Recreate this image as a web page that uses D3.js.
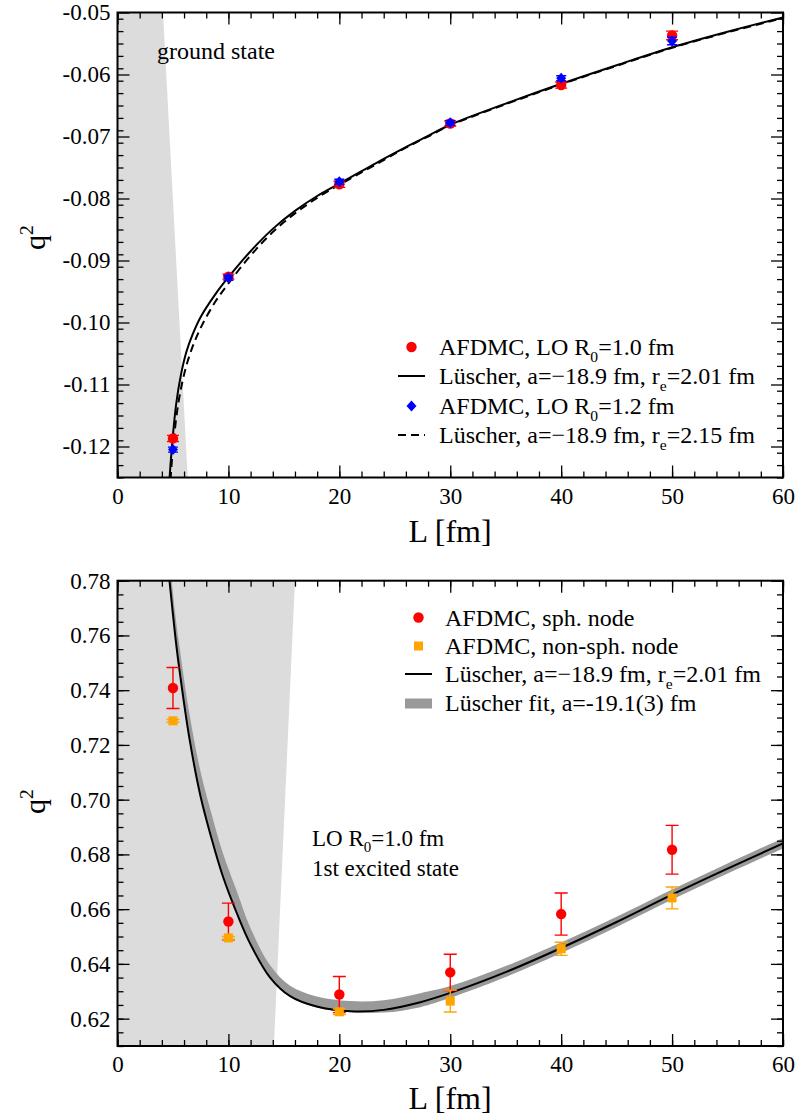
<!DOCTYPE html>
<html>
<head>
<meta charset="utf-8">
<script src="https://cdn.jsdelivr.net/npm/d3@7"></script>
<style>
  body { margin: 0; background: #fff; }
  text { font-family: "Liberation Serif", "Times New Roman", serif; fill: #000; }
</style>
</head>
<body>
<svg id="svg" width="798" height="1118"></svg>
<script>
/* globals d3 */

// ---- data: top panel (ground state) ----
var xTicks = [0, 10, 20, 30, 40, 50, 60];
var topYTicks = [-0.12, -0.11, -0.10, -0.09, -0.08, -0.07, -0.06, -0.05];
var dataL = [5, 10, 20, 30, 40, 50];

var gsR10 = [-0.1187, -0.0926, -0.0777, -0.0679, -0.0617, -0.0537];
var gsR10Err = [0.0005, 0.0004, 0.0005, 0.0004, 0.0005, 0.0007];
var gsR12 = [-0.1205, -0.0928, -0.0773, -0.0678, -0.0606, -0.0546];
var gsR12Err = [0.0004, 0.0004, 0.0004, 0.0004, 0.0004, 0.0006];

var lusSolidL = [4.6, 4.8, 5.0, 5.3, 5.7, 6.2, 6.8, 7.5, 8.8, 10, 12, 14, 16, 18, 20, 22, 24, 26, 28, 30, 35, 40, 45, 50, 55, 60];
var lusSolidQ = [-0.1275, -0.1224, -0.1181, -0.1130, -0.1086, -0.1048, -0.1018, -0.0991, -0.0955, -0.0927, -0.0885, -0.0849, -0.0820, -0.0796, -0.0776, -0.0756, -0.0736, -0.0717, -0.0699, -0.0681, -0.0647, -0.0615, -0.0585, -0.0556, -0.0531, -0.0508];
var lusDashL = [4.7, 4.9, 5.1, 5.4, 5.8, 6.3, 6.9, 7.6, 8.8, 10, 12, 14, 16, 18, 20, 22, 24, 26, 28, 30, 35, 40, 45, 50, 55, 60];
var lusDashQ = [-0.1275, -0.1224, -0.1185, -0.1140, -0.1100, -0.1064, -0.1033, -0.1005, -0.0967, -0.0937, -0.0892, -0.0854, -0.0824, -0.0799, -0.0778, -0.0758, -0.0738, -0.0718, -0.0700, -0.0682, -0.0648, -0.0616, -0.0586, -0.0557, -0.0532, -0.0509];

// shaded region edge (L at top and bottom of the frame)
var gsShadeEdge = [4.1, 6.33];

// ---- data: bottom panel (1st excited state) ----
var exYTicks = [0.62, 0.64, 0.66, 0.68, 0.70, 0.72, 0.74, 0.76, 0.78];
var exSph = [0.7408, 0.6555, 0.6288, 0.6369, 0.6582, 0.6817];
var exSphErr = [0.0075, 0.0067, 0.0066, 0.0066, 0.0077, 0.0089];
var exNonSph = [0.7288, 0.6495, 0.6225, 0.6264, 0.6455, 0.6641];
var exNonSphErr = [0.0005, 0.0005, 0.0010, 0.0040, 0.0024, 0.0040];

var exLusL = [4.6, 4.75, 5.2, 5.5, 6.5, 7.5, 8.5, 9.49, 10.8, 11.96, 13.76, 15.56, 17.96, 20.96, 24, 27.3, 30, 35, 40, 45, 50, 55, 60];
var exLusQ = [0.7835, 0.7775, 0.7600, 0.7500, 0.7220, 0.7010, 0.6855, 0.6721, 0.6581, 0.6474, 0.6350, 0.6282, 0.6244, 0.6227, 0.6232, 0.6260, 0.6294, 0.6370, 0.6458, 0.6553, 0.6653, 0.6748, 0.6840];
var exFitHi = [0.7915, 0.7855, 0.7680, 0.7585, 0.7310, 0.7100, 0.6945, 0.6806, 0.6661, 0.6534, 0.6395, 0.6320, 0.6281, 0.6264, 0.6267, 0.6293, 0.6319, 0.6392, 0.6478, 0.6572, 0.6672, 0.6767, 0.6859];
var exFitLo = [0.7835, 0.7775, 0.7600, 0.7500, 0.7220, 0.7010, 0.6855, 0.6721, 0.6581, 0.6474, 0.6348, 0.6280, 0.6241, 0.6224, 0.6222, 0.6242, 0.6276, 0.6352, 0.6440, 0.6535, 0.6635, 0.6730, 0.6822];

var exShadeEdge = [16.0, 14.1];

// ---- drawing ----
var svg = d3.select('#svg');
var FRAME_L = 117.5, FRAME_R = 783;

function makePanel(id, top, bottom, yDomain, yTicks, yMinorStep) {
  let p = {};
  p.x = d3.scaleLinear().domain([0, 60]).range([FRAME_L, FRAME_R]);
  p.y = d3.scaleLinear().domain(yDomain).range([bottom, top]);
  p.g = svg.append('g');

  p.g.append('clipPath').attr('id', id)
    .append('rect')
    .attr('x', FRAME_L).attr('y', top)
    .attr('width', FRAME_R - FRAME_L).attr('height', bottom - top);
  p.plot = p.g.append('g').attr('clip-path', 'url(#' + id + ')');

  p.drawAxes = function() {
    let xMinor = d3.range(0, 60.01, 2);
    let yMinor = d3.range(yDomain[0], yDomain[1] + 1e-9, yMinorStep);
    let ax = p.g.append('g');
    let fmt = function(d) { return d.toFixed(2); };

    // bottom
    ax.append('g').attr('transform', 'translate(0,' + bottom + ')')
      .call(d3.axisBottom(p.x).tickValues(xMinor).tickSize(-6).tickFormat(''));
    ax.append('g').attr('transform', 'translate(0,' + bottom + ')')
      .call(d3.axisBottom(p.x).tickValues(xTicks).tickSize(-12).tickPadding(10).tickFormat(d3.format('d')));
    // top
    ax.append('g').attr('transform', 'translate(0,' + top + ')')
      .call(d3.axisTop(p.x).tickValues(xMinor).tickSize(-6).tickFormat(''));
    ax.append('g').attr('transform', 'translate(0,' + top + ')')
      .call(d3.axisTop(p.x).tickValues(xTicks).tickSize(-12).tickFormat(''));
    // left
    ax.append('g').attr('transform', 'translate(' + FRAME_L + ',0)')
      .call(d3.axisLeft(p.y).tickValues(yMinor).tickSize(-6).tickFormat(''));
    ax.append('g').attr('transform', 'translate(' + FRAME_L + ',0)')
      .call(d3.axisLeft(p.y).tickValues(yTicks).tickSize(-12).tickPadding(7).tickFormat(fmt));
    // right
    ax.append('g').attr('transform', 'translate(' + FRAME_R + ',0)')
      .call(d3.axisRight(p.y).tickValues(yMinor).tickSize(-6).tickFormat(''));
    ax.append('g').attr('transform', 'translate(' + FRAME_R + ',0)')
      .call(d3.axisRight(p.y).tickValues(yTicks).tickSize(-12).tickFormat(''));

    ax.selectAll('.domain').remove();
    ax.selectAll('.tick line').attr('stroke', '#000').attr('stroke-width', 1.3);
    ax.selectAll('.tick text')
      .style('font-family', '"Liberation Serif", serif')
      .style('font-size', '23px').attr('fill', '#000');

    p.g.append('rect')
      .attr('x', FRAME_L).attr('y', top)
      .attr('width', FRAME_R - FRAME_L).attr('height', bottom - top)
      .attr('fill', 'none').attr('stroke', '#000').attr('stroke-width', 2);
  };

  p.shade = function(edge) {
    let pts = [[p.x(0), p.y(yDomain[1])], [p.x(edge[0]), p.y(yDomain[1])],
               [p.x(edge[1]), p.y(yDomain[0])], [p.x(0), p.y(yDomain[0])]];
    p.plot.append('path')
      .attr('d', 'M' + pts.join('L') + 'Z')
      .attr('fill', '#dcdcdc');
  };

  p.curve = function(xs, ys, dash) {
    let line = d3.line()
      .x(function(d, i) { return p.x(xs[i]); })
      .y(function(d) { return p.y(d); })
      .curve(d3.curveCatmullRom.alpha(0.5));
    p.plot.append('path')
      .attr('d', line(ys))
      .attr('fill', 'none')
      .attr('stroke', '#000')
      .attr('stroke-width', 2)
      .attr('stroke-dasharray', dash || null);
  };

  p.band = function(xs, lo, hi) {
    let area = d3.area()
      .x(function(d, i) { return p.x(xs[i]); })
      .y0(function(d, i) { return p.y(lo[i]); })
      .y1(function(d, i) { return p.y(hi[i]); })
      .curve(d3.curveCatmullRom.alpha(0.5));
    p.plot.append('path').attr('d', area(xs)).attr('fill', '#999999');
  };

  p.errorbars = function(vals, errs, color, cap) {
    let g = p.g.append('g').attr('stroke', color).attr('stroke-width', 1.4).attr('fill', 'none');
    vals.forEach(function(v, i) {
      let cx = p.x(dataL[i]);
      let y0 = p.y(v - errs[i]), y1 = p.y(v + errs[i]);
      g.append('path').attr('d', 'M' + cx + ',' + y0 + 'V' + y1 +
        'M' + (cx - cap) + ',' + y0 + 'H' + (cx + cap) +
        'M' + (cx - cap) + ',' + y1 + 'H' + (cx + cap));
    });
  };

  p.markers = function(vals, shape, color) {
    let g = p.g.append('g').attr('fill', color);
    vals.forEach(function(v, i) {
      drawShape(g, shape, p.x(dataL[i]), p.y(v));
    });
  };

  return p;
}

function drawShape(g, shape, cx, cy) {
  if (shape == 'circle') {
    g.append('circle').attr('cx', cx).attr('cy', cy).attr('r', 5.2);
  } else if (shape == 'diamond') {
    g.append('path').attr('d', 'M' + cx + ',' + (cy - 5.5) + 'L' + (cx + 5) + ',' + cy +
      'L' + cx + ',' + (cy + 5.5) + 'L' + (cx - 5) + ',' + cy + 'Z');
  } else {
    g.append('rect').attr('x', cx - 4.5).attr('y', cy - 4.5).attr('width', 9).attr('height', 9);
  }
}

// text with sub/superscripts: parts = [[str, 'sub'|'sup'|null], ...]
function richText(parent, x, y, parts, size) {
  let t = parent.append('text').attr('x', x).attr('y', y).style('font-size', size + 'px');
  let shift = 0;
  parts.forEach(function(pt) {
    let s = t.append('tspan').text(pt[0]);
    let target = 0;
    if (pt[1] == 'sub') { target = size * 0.28; s.style('font-size', (size * 0.65) + 'px'); }
    if (pt[1] == 'sup') { target = -size * 0.4; s.style('font-size', (size * 0.65) + 'px'); }
    if (target - shift != 0) s.attr('dy', target - shift);
    shift = target;
  });
  return t;
}

// ---------- top panel ----------
var P1 = makePanel('clipTop', 12.5, 477.5, [-0.125, -0.05], topYTicks, 0.002);
P1.shade(gsShadeEdge);
P1.curve(lusSolidL, lusSolidQ);
P1.curve(lusDashL, lusDashQ, '8,5');
P1.errorbars(gsR10, gsR10Err, '#ff0000', 6);
P1.markers(gsR10, 'circle', '#ff0000');
P1.errorbars(gsR12, gsR12Err, '#0000ff', 5);
P1.markers(gsR12, 'diamond', '#0000ff');
P1.drawAxes();

svg.append('text').attr('x', 157).attr('y', 59).style('font-size', '24px').text('ground state');

var leg1 = svg.append('g');
var l1x = 439;
drawShape(leg1.append('g').attr('fill', '#ff0000'), 'circle', 411.5, 347);
richText(leg1, l1x, 355, [['AFDMC, LO R'], ['0', 'sub'], ['=1.0 fm']], 24);
leg1.append('path').attr('d', 'M398,376H425').attr('stroke', '#000').attr('stroke-width', 2);
richText(leg1, l1x, 384, [['Lüscher, a=\u221218.9 fm, r'], ['e', 'sub'], ['=2.01 fm']], 24);
drawShape(leg1.append('g').attr('fill', '#0000ff'), 'diamond', 411.5, 406);
richText(leg1, l1x, 414, [['AFDMC, LO R'], ['0', 'sub'], ['=1.2 fm']], 24);
leg1.append('path').attr('d', 'M398,435H425').attr('stroke', '#000').attr('stroke-width', 2).attr('stroke-dasharray', '8,5');
richText(leg1, l1x, 443, [['Lüscher, a=\u221218.9 fm, r'], ['e', 'sub'], ['=2.15 fm']], 24);

svg.append('text').attr('x', 450).attr('y', 542).attr('text-anchor', 'middle')
  .style('font-size', '32px').text('L [fm]');
richText(svg.append('g').attr('transform', 'translate(45,250) rotate(-90)'), 0, 0, [['q'], ['2', 'sup']], 30);

// ---------- bottom panel ----------
var P2 = makePanel('clipBot', 580.7, 1046, [0.61, 0.78], exYTicks, 0.005);
P2.shade(exShadeEdge);
P2.band(exLusL, exFitLo, exFitHi);
P2.curve(exLusL, exLusQ);
P2.errorbars(exSph, exSphErr, '#ff0000', 6.5);
P2.markers(exSph, 'circle', '#ff0000');
P2.errorbars(exNonSph, exNonSphErr, '#ffa500', 6.5);
P2.markers(exNonSph, 'square', '#ffa500');
P2.drawAxes();

var leg2 = svg.append('g');
var l2x = 445;
drawShape(leg2.append('g').attr('fill', '#ff0000'), 'circle', 418.5, 617.5);
richText(leg2, l2x, 625.5, [['AFDMC, sph. node']], 24);
drawShape(leg2.append('g').attr('fill', '#ffa500'), 'square', 418.5, 646);
richText(leg2, l2x, 654, [['AFDMC, non-sph. node']], 24);
leg2.append('path').attr('d', 'M405,674H432').attr('stroke', '#000').attr('stroke-width', 2);
richText(leg2, l2x, 682, [['Lüscher, a=\u221218.9 fm, r'], ['e', 'sub'], ['=2.01 fm']], 24);
leg2.append('rect').attr('x', 405).attr('y', 698.5).attr('width', 27).attr('height', 10).attr('fill', '#999999');
richText(leg2, l2x, 711, [['Lüscher fit, a=-19.1(3) fm']], 24);

richText(svg, 312, 846, [['LO R'], ['0', 'sub'], ['=1.0 fm']], 23);
svg.append('text').attr('x', 312).attr('y', 876).style('font-size', '23px').text('1st excited state');

svg.append('text').attr('x', 450).attr('y', 1109).attr('text-anchor', 'middle')
  .style('font-size', '32px').text('L [fm]');
richText(svg.append('g').attr('transform', 'translate(45,814) rotate(-90)'), 0, 0, [['q'], ['2', 'sup']], 30);
</script>
</body>
</html>
